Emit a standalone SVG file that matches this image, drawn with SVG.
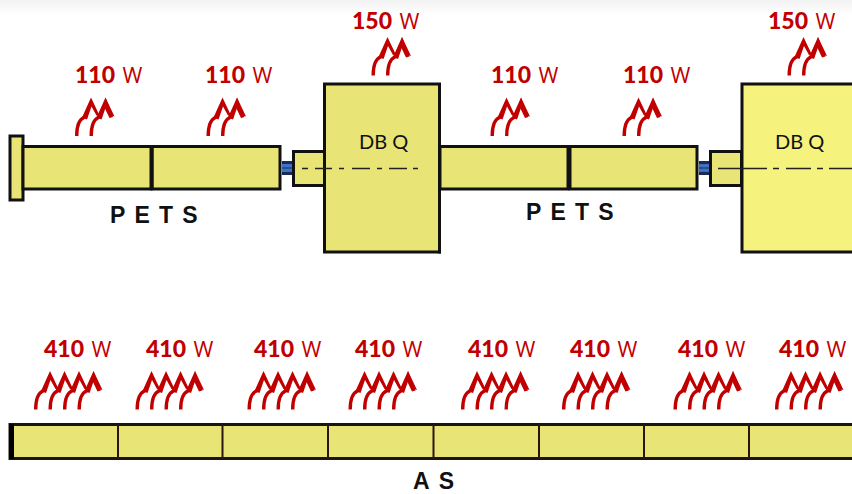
<svg xmlns="http://www.w3.org/2000/svg" width="852" height="494" viewBox="0 0 852 494">
<style>
.w{font-family:"Open Sans",Lato,sans-serif;font-size:21.500px;fill:#c00000}
.w .b{font-family:Lato,"Open Sans",sans-serif;font-weight:900;font-size:23px}
.box{fill:#e8e475;stroke:#111;stroke-width:3}
.lbl{font-family:"Liberation Sans",Arial,sans-serif;font-weight:700;font-size:23px;fill:#111;letter-spacing:9.200px}
.dbq{font-family:Lato,"Open Sans",sans-serif;font-size:20px;fill:#111}
.axis{fill:none;stroke:#222;stroke-width:1.300}
.heat{fill:none;stroke:#c00000;stroke-width:3.400}
.tip{fill:#c00000}
</style>
<defs>
<linearGradient id="top" x1="0" y1="0" x2="0" y2="1"><stop offset="0" stop-color="#f2f2f2"/><stop offset="1" stop-color="#ffffff"/></linearGradient>
<g id="h1">
<path class="heat" d="M1.700,38.500 C1.700,30 4,22 9,20 L12,18"/>
<path class="tip" d="M7,20 L16,0 L25,19 L21.500,18 L16.500,9 L12,22 Z"/>
</g>
<g id="h2e"><use href="#h1"/><use href="#h1" x="14.500"/><path class="tip" d="M30.500,0 L38,19.500 L34.500,20.500 L29,9 Z"/></g>
<g id="h4"><use href="#h1"/><use href="#h1" x="14.500"/><use href="#h1" x="29"/><use href="#h1" x="43.500"/><path class="tip" d="M59.500,0 L67,19.500 L63.500,20.500 L58,9 Z"/></g>
</defs>
<rect width="852" height="494" fill="#fff"/>
<rect width="852" height="15" fill="url(#top)"/>
<g id="pets-1">
<rect class="box" x="10" y="136" width="13" height="64"/>
<rect class="box" x="23" y="146.500" width="128" height="42.500"/>
<rect class="box" x="152" y="146.500" width="128" height="42.500"/>
<rect x="150" y="146" width="3.500" height="44" fill="#111"/>
<text class="lbl" x="110" y="223">PETS</text>
</g>
<g id="connector-1">
<rect x="282" y="161" width="12" height="14" fill="#1b2a55"/><rect x="282" y="164" width="12" height="8" fill="#3f71c9"/>
<rect x="282" y="167.500" width="12" height="1" fill="#1b2a55"/>
</g>
<g id="dbq-1">
<rect class="box" x="293.500" y="151.500" width="31" height="34"/>
<rect class="box" x="324.500" y="84" width="115" height="168"/>
<rect x="438" y="83" width="3" height="170.500" fill="#111"/>
<text class="dbq" x="359" y="149">DB Q</text>
<path class="axis" d="M302,168.500H308M315,168.500H332M339,168.500H344M352,168.500H370M377,168.500H382M389,168.500H407M413,168.500H418"/>
</g>
<g id="pets-2">
<rect class="box" x="440" y="146.500" width="128" height="42.500"/>
<rect class="box" x="570" y="146.500" width="127" height="42.500"/>
<rect x="567" y="146" width="3.500" height="44" fill="#111"/>
<text class="lbl" x="526" y="220">PETS</text>
</g>
<g id="connector-2">
<rect x="699" y="161" width="12" height="14" fill="#1b2a55"/><rect x="699" y="164" width="12" height="8" fill="#3f71c9"/>
<rect x="699" y="167.500" width="12" height="1" fill="#1b2a55"/>
</g>
<g id="dbq-2">
<rect class="box" x="710.500" y="151.500" width="31" height="34"/>
<rect x="742" y="84" width="120" height="168" fill="#f6f27e" stroke="#111" stroke-width="3"/>
<text class="dbq" x="775" y="149">DB Q</text>
<path class="axis" d="M718,168.500H767M773,168.500H779M786,168.500H811M817,168.500H823M829,168.500H852"/>
</g>
<g id="as">
<rect x="10" y="424.500" width="850" height="34" fill="#e8e475" stroke="#1c1410" stroke-width="3"/>
<rect x="9" y="424" width="5" height="35" fill="#000"/>
<path d="M118,424V459M222.500,424V459M328,424V459M433.500,424V459M539,424V459M644,424V459M749,424V459" stroke="#2a1510" stroke-width="2" fill="none"/>
<text class="lbl" x="413" y="489">AS</text>
</g>
<g id="heat-labels">
<text class="w" x="75" y="83"><tspan class="b">110</tspan><tspan dx="7.500">W</tspan></text>
<text class="w" x="205" y="83"><tspan class="b">110</tspan><tspan dx="7.500">W</tspan></text>
<text class="w" x="491" y="83"><tspan class="b">110</tspan><tspan dx="7.500">W</tspan></text>
<text class="w" x="623" y="83"><tspan class="b">110</tspan><tspan dx="7.500">W</tspan></text>
<text class="w" x="352" y="29"><tspan class="b">150</tspan><tspan dx="7.500">W</tspan></text>
<text class="w" x="768" y="29"><tspan class="b">150</tspan><tspan dx="7.500">W</tspan></text>
<text class="w" x="44" y="357"><tspan class="b">410</tspan><tspan dx="7.500">W</tspan></text>
<text class="w" x="146" y="357"><tspan class="b">410</tspan><tspan dx="7.500">W</tspan></text>
<text class="w" x="254" y="357"><tspan class="b">410</tspan><tspan dx="7.500">W</tspan></text>
<text class="w" x="355" y="357"><tspan class="b">410</tspan><tspan dx="7.500">W</tspan></text>
<text class="w" x="468" y="357"><tspan class="b">410</tspan><tspan dx="7.500">W</tspan></text>
<text class="w" x="570" y="357"><tspan class="b">410</tspan><tspan dx="7.500">W</tspan></text>
<text class="w" x="678" y="357"><tspan class="b">410</tspan><tspan dx="7.500">W</tspan></text>
<text class="w" x="779" y="357"><tspan class="b">410</tspan><tspan dx="7.500">W</tspan></text>
</g>
<g id="connectors">
<use href="#h2e" x="75" y="97.500"/>
<use href="#h2e" x="206.500" y="97.500"/>
<use href="#h2e" x="490.500" y="97.500"/>
<use href="#h2e" x="622.500" y="97.500"/>
<use href="#h2e" x="371.500" y="37"/>
<use href="#h2e" x="787.500" y="37"/>
<use href="#h4" x="34" y="371"/>
<use href="#h4" x="135.500" y="371"/>
<use href="#h4" x="247.500" y="371"/>
<use href="#h4" x="348.500" y="371"/>
<use href="#h4" x="461" y="371"/>
<use href="#h4" x="562" y="371"/>
<use href="#h4" x="673.500" y="371"/>
<use href="#h4" x="775" y="371"/>
</g>
</svg>
